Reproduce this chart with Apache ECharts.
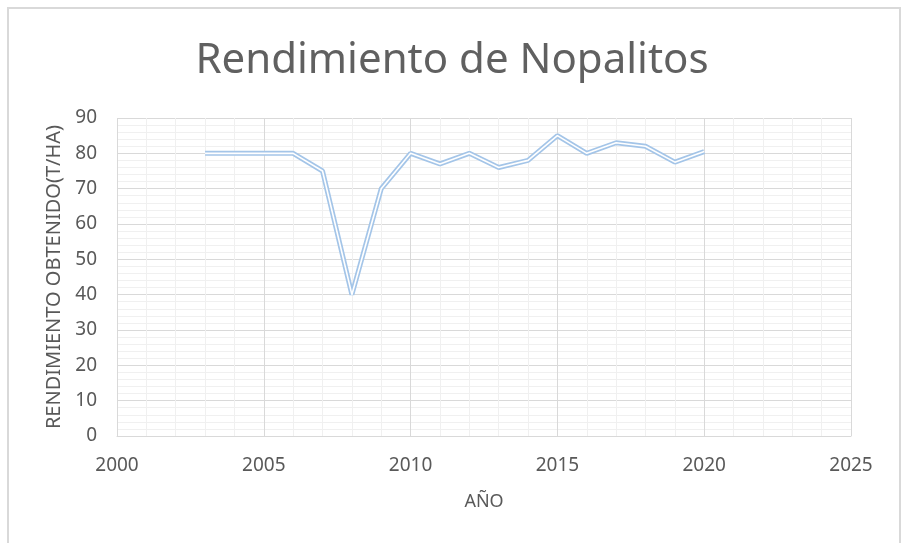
<!DOCTYPE html>
<html>
<head>
<meta charset="utf-8">
<script src="https://cdn.jsdelivr.net/npm/echarts@6/dist/echarts.min.js"></script>
<style>
html,body{margin:0;padding:0;background:#fff;}
#c{width:904px;height:543px;}
</style>
</head>
<body>
<div id="c"></div>
<script>
var years = [2003, 2004, 2005, 2006, 2007, 2008, 2009, 2010, 2011, 2012, 2013, 2014, 2015, 2016, 2017, 2018, 2019, 2020];
var rendimiento = [80, 80, 80, 80, 75, 40, 70, 80, 77, 80, 76, 78, 85, 80, 83, 82, 77.5, 80.5];
var titleText = 'Rendimiento de Nopalitos';
var xName = 'AÑO';
var yName = 'RENDIMIENTO OBTENIDO(T/HA)';

var pts = years.map(function (y, i) { return [y, rendimiento[i]]; });
var font = '"Noto Sans", "Open Sans", sans-serif';
var chart = echarts.init(document.getElementById('c'), null, {renderer: 'canvas'});
chart.setOption({
  backgroundColor: '#fff',
  animation: false,
  title: {
    text: titleText,
    left: 'center',
    top: 35,
    textStyle: {fontFamily: font, fontSize: 42, fontWeight: 'normal', color: '#606060'}
  },
  graphic: [{
    type: 'rect', silent: true, z: -1,
    shape: {x: 8, y: 8, width: 892, height: 560},
    style: {fill: 'none', stroke: '#d9d9d9', lineWidth: 2}
  }],
  grid: {left: 117, right: 53, top: 118, bottom: 107},
  xAxis: {
    type: 'value', min: 2000, max: 2025, interval: 5,
    name: xName, nameLocation: 'middle', nameGap: 57,
    nameTextStyle: {fontFamily: font, fontSize: 18, color: '#595959'},
    axisLine: {show: true, lineStyle: {color: '#d9d9d9', width: 1}},
    axisTick: {show: false},
    axisLabel: {fontFamily: font, fontSize: 19, color: '#595959', margin: 20,
      formatter: function (v) { return String(v); }},
    splitLine: {show: true, lineStyle: {color: '#d9d9d9', width: 1}},
    minorTick: {show: false, splitNumber: 5},
    minorSplitLine: {show: true, lineStyle: {color: '#f0f0f0', width: 1}}
  },
  yAxis: {
    type: 'value', min: 0, max: 90, interval: 10,
    name: yName, nameLocation: 'middle', nameGap: 50,
    nameTextStyle: {fontFamily: font, fontSize: 20, color: '#595959'},
    axisLine: {show: false},
    axisTick: {show: false},
    axisLabel: {fontFamily: font, fontSize: 19, color: '#595959', margin: 20},
    splitLine: {show: true, lineStyle: {color: '#d9d9d9', width: 1}},
    minorTick: {show: false, splitNumber: 5},
    minorSplitLine: {show: true, lineStyle: {color: '#f0f0f0', width: 1}}
  },
  series: [{
    type: 'line', data: pts, showSymbol: false, symbol: 'none',
    lineStyle: {color: '#a4c5e8', width: 5}, z: 2
  }, {
    type: 'line', data: pts, showSymbol: false, symbol: 'none',
    lineStyle: {color: '#ffffff', width: 1.6}, z: 3
  }]
});
</script>
</body>
</html>
